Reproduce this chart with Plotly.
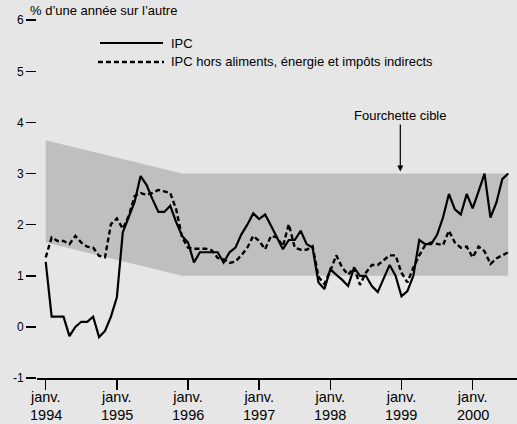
import plotly.graph_objects as go

# ---- data (monthly, janv. 1994 -> juil. 2000) ----
ipc = [1.27, 0.2, 0.2, 0.2, -0.18, 0.0, 0.1, 0.1, 0.2, -0.2, -0.08, 0.2,
       0.58, 1.85, 2.15, 2.45, 2.95, 2.78, 2.5, 2.25, 2.25, 2.37, 2.05, 1.78,
       1.65, 1.26, 1.46, 1.46, 1.46, 1.46, 1.26, 1.46, 1.55, 1.81, 2.0, 2.22,
       2.11, 2.2, 1.98, 1.75, 1.52, 1.7, 1.7, 1.88, 1.62, 1.55, 0.87, 0.74,
       1.13, 1.02, 0.92, 0.8, 1.16, 1.0, 1.0, 0.8, 0.68, 0.95, 1.21, 1.0,
       0.6, 0.7, 1.0, 1.7, 1.62, 1.62, 1.8, 2.14, 2.6, 2.3, 2.2, 2.6,
       2.32, 2.65, 3.0, 2.14, 2.43, 2.89, 3.0]
ipc_core = [1.36, 1.75, 1.68, 1.68, 1.62, 1.78, 1.65, 1.57, 1.55, 1.39, 1.36, 2.01,
            2.12, 1.92, 2.17, 2.56, 2.62, 2.58, 2.62, 2.68, 2.65, 2.62, 2.3, 1.75,
            1.55, 1.53, 1.53, 1.53, 1.5, 1.35, 1.32, 1.25, 1.28, 1.4, 1.55, 1.78,
            1.68, 1.52, 1.78, 1.75, 1.58, 2.01, 1.55, 1.51, 1.51, 1.58, 0.98, 0.84,
            1.1, 1.4, 1.16, 1.02, 1.16, 0.82, 1.06, 1.21, 1.21, 1.3, 1.4, 1.4,
            1.06, 0.87, 1.16, 1.4, 1.6, 1.65, 1.62, 1.6, 1.88, 1.65, 1.55, 1.57,
            1.36, 1.57, 1.48, 1.23, 1.34, 1.4, 1.46]
months = list(range(len(ipc)))          # 0 = janv. 1994

# target band (month index, upper, lower)
band_months = [0, 23, 78]
band_upper = [3.65, 3.0, 3.0]
band_lower = [1.65, 1.0, 1.0]

tick_months = [0, 12, 24, 36, 48, 60, 72]
tick_years = ["1994", "1995", "1996", "1997", "1998", "1999", "2000"]
y_ticks = [-1, 0, 1, 2, 3, 4, 5, 6]
y_ticktext = ["-1", "0", "1", "2", "3", "4", "5", "6"]

label_ipc = "IPC"
label_core = "IPC hors aliments, énergie et impôts indirects"
y_title = "% d\u2019une année sur l\u2019autre"
band_label = "Fourchette cible"
month_label = "janv."

# ---- layout constants ----
W, H = 517, 424
ML, MR, MT, MB = 37, 0, 10, 46
BG = "#e6e6e6"
FONT = "Liberation Sans, Arial, sans-serif"
pw, ph = W - ML - MR, H - MT - MB


def px(xp):  # page pixel -> paper x
    return (xp - ML) / pw


def py(yp):  # page pixel -> paper y
    return (H - MB - yp) / ph


fig = go.Figure()

# band polygon
fig.add_trace(go.Scatter(
    x=band_months + band_months[::-1],
    y=band_upper + band_lower[::-1],
    fill="toself", fillcolor="#bfbfbf", line=dict(width=0),
    mode="lines", hoverinfo="skip", showlegend=False))

fig.add_trace(go.Scatter(
    x=months, y=ipc_core, mode="lines", name=label_core,
    line=dict(color="black", width=2.4, dash="5px,3px"), showlegend=False))
fig.add_trace(go.Scatter(
    x=months, y=ipc, mode="lines", name=label_ipc,
    line=dict(color="black", width=2.2), showlegend=False))

# legend (custom)
shapes = [
    dict(type="line", xref="paper", yref="paper",
         x0=px(100), x1=px(163), y0=py(43), y1=py(43),
         line=dict(color="black", width=2.2)),
    dict(type="line", xref="paper", yref="paper",
         x0=px(98), x1=px(164), y0=py(62), y1=py(62),
         line=dict(color="black", width=2.4, dash="5px,3px")),
]
annotations = [
    dict(text=label_ipc, xref="paper", yref="paper", x=px(169), y=py(43),
         xanchor="left", yanchor="middle", showarrow=False,
         font=dict(size=13, color="black", family=FONT)),
    dict(text=label_core, xref="paper", yref="paper", x=px(169), y=py(62),
         xanchor="left", yanchor="middle", showarrow=False,
         font=dict(size=13, color="black", family=FONT)),
    dict(text=y_title, xref="paper", yref="paper", x=px(28), y=py(10),
         xanchor="left", yanchor="middle", showarrow=False,
         font=dict(size=13, color="black", family=FONT)),
    dict(text=band_label, x=59.8, y=3.04, xref="x", yref="y",
         showarrow=True, ax=0, ay=-56, arrowhead=2, arrowsize=1,
         arrowwidth=1.2, arrowcolor="black",
         font=dict(size=13, color="black", family=FONT)),
]
# year line under each "janv." tick label
for m, yr in zip(tick_months, tick_years):
    annotations.append(dict(
        text=yr, x=m, xref="x", y=py(415), yref="paper",
        xanchor="center", yanchor="middle", showarrow=False,
        font=dict(size=14.5, color="black", family=FONT)))

fig.update_layout(
    width=W, height=H,
    margin=dict(l=ML, r=MR, t=MT, b=MB, autoexpand=False),
    paper_bgcolor=BG, plot_bgcolor=BG,
    font=dict(family=FONT, color="black"),
    showlegend=False,
    shapes=shapes, annotations=annotations,
    xaxis=dict(range=[-1.47, 79.48], tickmode="array", tickvals=tick_months,
               ticktext=[month_label] * len(tick_months),
               ticks="outside", ticklen=10, tickwidth=1.5, tickcolor="black",
               ticklabelstandoff=-5,
               showline=True, linecolor="black", linewidth=2,
               showgrid=False, zeroline=False, fixedrange=True,
               automargin=False,
               tickfont=dict(size=14.5, family=FONT, color="black")),
    yaxis=dict(range=[-1, 6.2], tickmode="array", tickvals=y_ticks,
               ticktext=y_ticktext,
               ticks="outside", ticklen=10, tickwidth=1.5, tickcolor="black",
               showline=False, showgrid=False, zeroline=False,
               fixedrange=True, automargin=False,
               tickfont=dict(size=12, family=FONT, color="black")),
)

fig.write_html(
    "out.html",
    config={"displayModeBar": False, "staticPlot": True},
    post_script="document.body.style.margin='0';"
                "document.body.style.overflow='hidden';")
